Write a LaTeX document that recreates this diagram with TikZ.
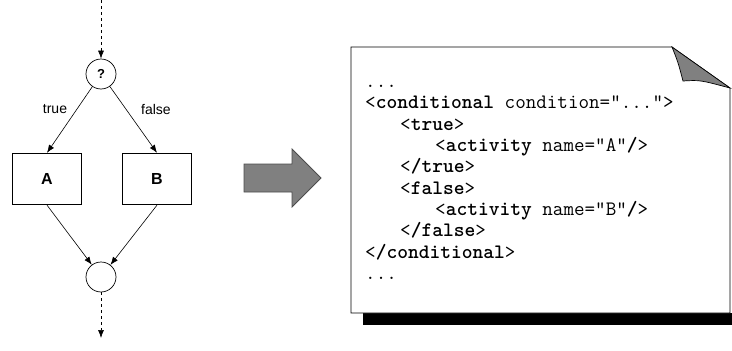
\documentclass[tikz,border=0pt]{standalone}
\usepackage{fontspec}
\setmainfont{Liberation Sans}
\usetikzlibrary{arrows.meta}

\newcommand{\el}[1]{{\bfseries #1}}

\begin{document}
\begin{tikzpicture}
	 [x=1pt,y=-1pt,
	  flow/.style={-{Latex[length=8pt,width=6pt]},line width=0.6pt},
	  dec/.style={circle,draw,line width=0.7pt,minimum size=30pt,inner sep=0pt,font=\fontsize{13}{13}\selectfont\bfseries},
	  act/.style={rectangle,draw,line width=1.3pt,minimum width=69pt,minimum height=51pt,font=\fontsize{16}{16}\selectfont\bfseries},
	  lbl/.style={font=\fontsize{14}{14}\selectfont},
	  code/.style={anchor=base west,inner sep=0pt,font=\fontsize{20.5}{20.5}\ttfamily}]

	\useasboundingbox (0,0) rectangle (732,351);

	% flow graph
	  \coordinate (in) at (101,0);
	  \node[dec] (q) at (101,74) {?};
	  \node[act] (a) at (47,179) {A};
	  \node[act] (b) at (157,179) {B};
	  \node[dec] (m) at (101,277) {};
	  \coordinate (out) at (101,338);

	  \node[lbl] (t) at (55,109) {true};
	  \node[lbl] (f) at (156,109) {false};

	\draw[flow,dashed] (in) -- (q);
	\draw[flow] (q) -- (a.north);
	\draw[flow] (q) -- (b.north);
	\foreach \from in {a,b}
    \draw[flow] (\from.south) -- (m);
	\draw[flow,dashed] (m) -- (out);

	% big arrow
	\draw[fill=black!50,draw=black!70,line width=0.8pt]
	  (244,164) -- (292,164) -- (292,149) -- (321,178) -- (292,207) -- (292,192) -- (244,192) -- cycle;

	% document with folded corner
	\fill (363,313) rectangle (732,325);
	\draw[fill=white,line width=0.7pt] (351,47) -- (672,47) -- (730,88) -- (730,313) -- (351,313) -- cycle;
	\draw[fill=black!50,line width=0.7pt] (672,47) .. controls (678,62) .. (683,81) .. controls (700,80) .. (730,88) -- cycle;

	  \node[code] (l0) at (365,87) {...};
	  \node[code] (l1) at (365,108) {<\el{conditional} condition="...">};
	  \node[code] (l2) at (400,130) {<\el{true}>};
	  \node[code] (l3) at (435,151) {<\el{activity} name="A"\el{/}>};
	  \node[code] (l4) at (400,172) {<\el{/true}>};
	  \node[code] (l5) at (400,194) {<\el{false}>};
	  \node[code] (l6) at (435,215) {<\el{activity} name="B"\el{/}>};
	  \node[code] (l7) at (400,236) {<\el{/false}>};
	  \node[code] (l8) at (365,258) {<\el{/conditional}>};
	  \node[code] (l9) at (365,279) {...};

\end{tikzpicture}
\end{document}
